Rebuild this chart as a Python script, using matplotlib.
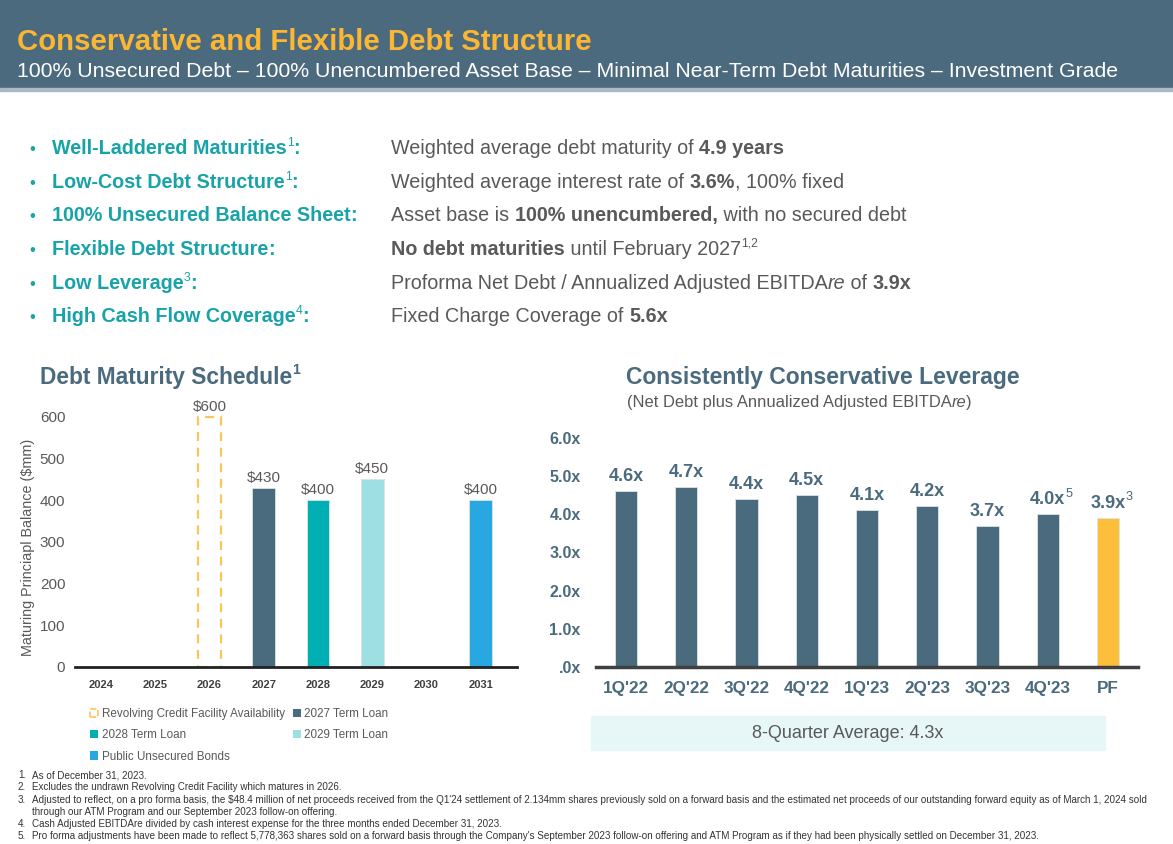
import matplotlib
matplotlib.use('Agg')
import matplotlib.pyplot as plt
from matplotlib.patches import Rectangle, Patch

W, H = 1173, 844
plt.rcParams['font.family'] = ['Liberation Sans', 'DejaVu Sans']

SLATE = '#4A6A7E'
GREY = '#595959'
TEAL = '#17A3A8'
ORANGE = '#FBB633'

# ---- data ----
debt_years = ['2024', '2025', '2026', '2027', '2028', '2029', '2030', '2031']
revolver_year = '2026'
revolver_amount = 600
loan_names = ['2027 Term Loan', '2028 Term Loan', '2029 Term Loan', 'Public Unsecured Bonds']
loan_years = ['2027', '2028', '2029', '2031']
loan_amounts = [430, 400, 450, 400]

quarters = ["1Q'22", "2Q'22", "3Q'22", "4Q'22", "1Q'23", "2Q'23", "3Q'23", "4Q'23", 'PF']
leverage = [4.6, 4.7, 4.4, 4.5, 4.1, 4.2, 3.7, 4.0, 3.9]
leverage_notes = ['', '', '', '', '', '', '', '5', '3']
avg_leverage = 4.3

bullet_heads = [('Well-Laddered Maturities', '1'), ('Low-Cost Debt Structure', '1'),
                ('100% Unsecured Balance Sheet', ''), ('Flexible Debt Structure', ''),
                ('Low Leverage', '3'), ('High Cash Flow Coverage', '4')]
bullet_texts = [
    [('Weighted average debt maturity of ', 'normal'), ('4.9 years', 'bold')],
    [('Weighted average interest rate of ', 'normal'), ('3.6%', 'bold'), (', 100% fixed', 'normal')],
    [('Asset base is ', 'normal'), ('100% unencumbered,', 'bold'), (' with no secured debt', 'normal')],
    [('No debt maturities', 'bold'), (' until February 2027', 'normal'), ('1,2', 'sup')],
    [('Proforma Net Debt / Annualized Adjusted EBITDA', 'normal'), ('re', 'italic'),
     (' of ', 'normal'), ('3.9x', 'bold')],
    [('Fixed Charge Coverage of ', 'normal'), ('5.6x', 'bold')],
]
footnotes = [
    ('1.', 'As of December 31, 2023.'),
    ('2.', 'Excludes the undrawn Revolving Credit Facility which matures in 2026.'),
    ('3.', "Adjusted to reflect, on a pro forma basis, the $48.4 million of net proceeds received from the Q1'24 settlement of 2.134mm shares previously sold on a forward basis and the estimated net proceeds of our outstanding forward equity as of March 1, 2024 sold"),
    ('', 'through our ATM Program and our September 2023 follow-on offering.'),
    ('4.', 'Cash Adjusted EBITDAre divided by cash interest expense for the three months ended December 31, 2023.'),
    ('5.', "Pro forma adjustments have been made to reflect 5,778,363 shares sold on a forward basis through the Company's September 2023 follow-on offering and ATM Program as if they had been physically settled on December 31, 2023."),
]

fig = plt.figure(figsize=(W / 100, H / 100), dpi=100)
renderer = fig.canvas.get_renderer()


def put(x, y, s, **kw):
    return fig.text(x / W, 1 - y / H, s, **kw)


def width_of(s, **kw):
    t = fig.text(0, 0, 'a' + s + 'a', **kw)
    w = t.get_window_extent(renderer).width
    t.remove()
    t = fig.text(0, 0, 'aa', **kw)
    w -= t.get_window_extent(renderer).width
    t.remove()
    return w


def rich(x, y, parts, size, color, center_first=False, sup_scale=0.62):
    # parts: list of (text, kind); kind in normal/bold/italic/sup/boldsup
    pieces = []
    for text, kind in parts:
        sup = 'sup' in kind
        kw = dict(fontsize=size * sup_scale if sup else size,
                  fontweight='bold' if kind.startswith('bold') else 'normal',
                  fontstyle='italic' if kind == 'italic' else 'normal',
                  color=color)
        pieces.append((text, kw, sup, width_of(text, **kw)))
    if center_first:
        x = x - pieces[0][3] / 2
    for text, kw, sup, w in pieces:
        dy = -size * 0.42 * 100 / 72 if sup else 0
        put(x, y + dy, text, va='baseline', ha='left', **kw)
        x += w


# ---- header ----
fig.patches.append(Rectangle((0, 1 - 88 / H), 1, 88 / H, transform=fig.transFigure,
                             color='#4B6A7E', zorder=0))
fig.patches.append(Rectangle((0, 1 - 91 / H), 1, 3 / H, transform=fig.transFigure,
                             color='#A9BAC6', zorder=0))
put(17, 50, 'Conservative and Flexible Debt Structure', fontsize=21.2, fontweight='bold',
    color=ORANGE, va='baseline')
put(17, 77, '100% Unsecured Debt \u2013 100% Unencumbered Asset Base \u2013 Minimal Near-Term Debt '
    'Maturities \u2013 Investment Grade', fontsize=15.3, color='white', va='baseline')

# ---- bullets ----
row_y = [154, 188, 221, 255, 289, 322]
for (head, note), body, y in zip(bullet_heads, bullet_texts, row_y):
    put(29, y, '\u2022', fontsize=12, color=TEAL, va='baseline')
    parts = [(head, 'bold')]
    if note:
        parts.append((note, 'sup'))
    parts.append((':', 'bold'))
    rich(52, y, parts, 14.2, TEAL)
    rich(391, y, body, 14.2, GREY)

# ---- left chart: debt maturity ----
rich(40, 384, [('Debt Maturity Schedule', 'bold'), ('1', 'boldsup')], 16.4, SLATE)
ax1 = fig.add_axes([75 / W, 1 - 667 / H, 442 / W, 267 / H])
ax1.set_facecolor('none')
xpos = {yr: i for i, yr in enumerate(debt_years)}
loan_colors = [SLATE, '#00AFB4', '#9DDFE3', '#28A8E0']
ax1.bar(xpos[revolver_year], revolver_amount, width=0.42, fill=False,
        edgecolor='#FDC45C', linestyle=(0, (4, 3)), linewidth=1.6)
ax1.bar([xpos[y] for y in loan_years], loan_amounts, width=0.42, color=loan_colors,
        edgecolor='#DCE3E8', linewidth=0.6)
for xi, v in [(xpos[revolver_year], revolver_amount)] + list(zip([xpos[y] for y in loan_years], loan_amounts)):
    ax1.annotate('$%d' % v, (xi, v), xytext=(0, 2), textcoords='offset points',
                 ha='center', va='bottom', fontsize=11, color=GREY)
ax1.set_xlim(-0.48, 7.67)
ax1.set_ylim(0, 640)
ax1.set_yticks(range(0, 601, 100))
ax1.set_xticks(range(len(debt_years)))
ax1.set_xticklabels(debt_years, fontweight='bold', fontsize=8, color='#404040')
ax1.tick_params(axis='y', length=0, pad=7, labelsize=11, labelcolor=GREY)
ax1.tick_params(axis='x', length=0, pad=9)
for s in ['top', 'right', 'left']:
    ax1.spines[s].set_visible(False)
ax1.spines['bottom'].set_linewidth(2)
ax1.spines['bottom'].set_color('#222222')
put(28, 547, 'Maturing Princiapl Balance ($mm)', rotation=90, fontsize=10.4, color=GREY,
    ha='center', va='center')

handles = [Patch(facecolor='none', edgecolor='#FDC45C', linestyle='--', linewidth=1.2)]
handles += [Patch(facecolor=c, edgecolor='none') for c in loan_colors]
labels = ['Revolving Credit Facility Availability'] + loan_names
order = [0, 2, 4, 1, 3]
fig.legend([handles[i] for i in order], [labels[i] for i in order], ncol=2,
           loc='upper left', bbox_to_anchor=(84 / W, 1 - 702 / H), frameon=False,
           fontsize=8.4, labelcolor=GREY, handlelength=0.7, handleheight=0.7,
           handletextpad=0.3, columnspacing=0.7, labelspacing=0.8, borderpad=0)

# ---- right chart: leverage ----
put(823, 384, 'Consistently Conservative Leverage', fontsize=16.5, fontweight='bold',
    color=SLATE, ha='center', va='baseline')
rich(627, 407, [('(Net Debt plus Annualized Adjusted EBITDA', 'normal'), ('re', 'italic'),
                (')', 'normal')], 11.9, GREY)
ax2 = fig.add_axes([596 / W, 1 - 667 / H, 542 / W, 237 / H])
ax2.set_facecolor('none')
lev_colors = [SLATE] * (len(quarters) - 1) + ['#FDBE3A']
ax2.bar(range(len(quarters)), leverage, width=0.37, color=lev_colors,
        edgecolor='#DCE3E8', linewidth=0.6)
ax2.set_xlim(-0.5, 8.5)
ax2.set_ylim(0, 6.2)
ax2.set_yticks(range(7))
ax2.set_yticklabels(['.0x'] + ['%.1fx' % v for v in range(1, 7)], fontweight='bold',
                    fontsize=11.5, color=SLATE)
ax2.set_xticks(range(len(quarters)))
ax2.set_xticklabels(quarters, fontweight='bold', fontsize=12.3, color=SLATE)
ax2.tick_params(axis='y', length=0, pad=11)
ax2.tick_params(axis='x', length=0, pad=10)
for s in ['top', 'right', 'left']:
    ax2.spines[s].set_visible(False)
ax2.spines['bottom'].set_linewidth(2.5)
ax2.spines['bottom'].set_color('#404040')
for i, (v, note) in enumerate(zip(leverage, leverage_notes)):
    px, py = ax2.transData.transform((i, v))
    parts = [('%.1fx' % v, 'bold')]
    if note:
        parts.append((note, 'sup'))
    rich(px, H - py - 10, parts, 13, SLATE, center_first=True, sup_scale=0.7)

fig.patches.append(Rectangle((591 / W, 1 - 750 / H), 514 / W, 34 / H, transform=fig.transFigure,
                             color='#E7F6F7', zorder=0))
put(848, 734, '8-Quarter Average: %.1fx' % avg_leverage, fontsize=13, color=GREY,
    ha='center', va='center')

# ---- footnotes ----
for (num, text), y in zip(footnotes, [778, 790, 803, 815, 827, 839]):
    if num:
        put(18, y, num, fontsize=7.1, color='#333333', va='baseline')
    put(32, y, text, fontsize=7.1, color='#333333', va='baseline')

fig.savefig('out.png', dpi=100)
